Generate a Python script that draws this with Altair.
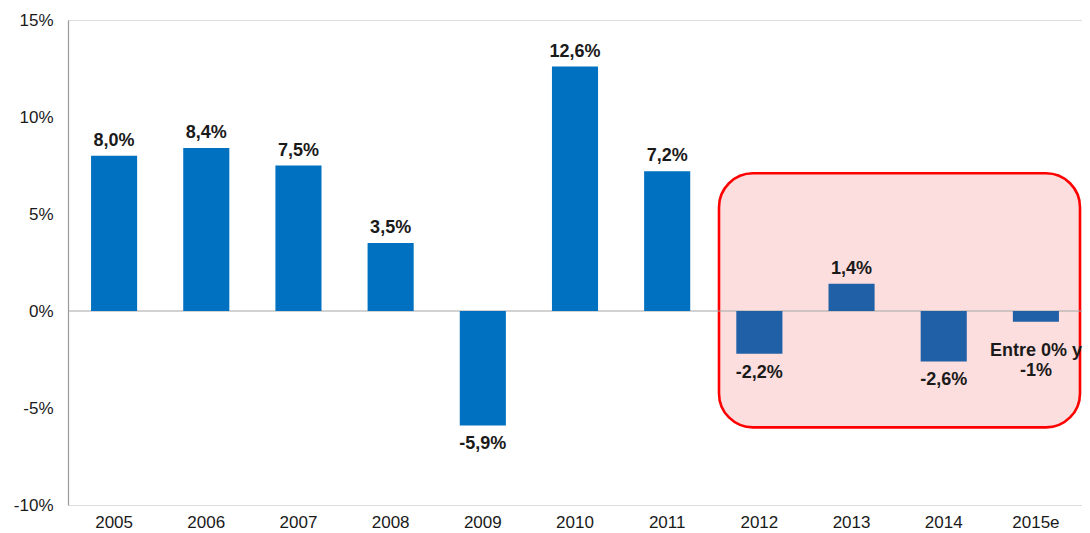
import altair as alt
import pandas as pd

years = ["2005", "2006", "2007", "2008", "2009", "2010", "2011", "2012", "2013", "2014", "2015e"]
values = [8.0, 8.4, 7.5, 3.5, -5.9, 12.6, 7.2, -2.2, 1.4, -2.6, -0.55]
labels = ["8,0%", "8,4%", "7,5%", "3,5%", "-5,9%", "12,6%", "7,2%", "-2,2%", "1,4%", "-2,6%", "Entre 0% y\n-1%"]
group = ["hist"] * 7 + ["recent"] * 4
y_ticks = [-10, -5, 0, 5, 10, 15]

df = pd.DataFrame({"year": years, "value": values, "label": labels, "group": group})
df["kind"] = ["pos" if v > 0 else "neg" for v in values]
df.loc[df["year"] == "2015e", "kind"] = "range"

box_df = pd.DataFrame({"top": [7.1], "bottom": [-6.0]})
zero_df = pd.DataFrame({"z": [0]})

FONT = "Liberation Sans"
W, H = 1014, 485

x_enc = alt.X("year:N", sort=years, title=None,
              scale=alt.Scale(paddingInner=0.5, paddingOuter=0.25),
              axis=alt.Axis(labelAngle=0, ticks=False, domain=False, labelPadding=9,
                            labelFontSize=17, labelColor="#1a1a1a", labelFont=FONT))
y_scale = alt.Scale(domain=[-10, 15], nice=False, zero=False)

box = alt.Chart(box_df).mark_rect(
    fill="#FDDEDE", stroke="#FF0000", strokeWidth=2.6, cornerRadius=34
).encode(
    x=alt.value(651), x2=alt.value(1012),
    y=alt.Y("top:Q", scale=y_scale), y2="bottom:Q"
)

zero = alt.Chart(zero_df).mark_rule(color="#A6A6A6", strokeWidth=1.2).encode(
    x=alt.value(0), x2=alt.value(W),
    y=alt.Y("z:Q", scale=y_scale)
)

bars = alt.Chart(df).mark_bar().encode(
    x=x_enc,
    y=alt.Y("value:Q", scale=y_scale, title=None,
            axis=alt.Axis(values=y_ticks, labelExpr="datum.value + '%'", ticks=False,
                          grid=False, domainColor="#999999", domainWidth=1.2,
                          labelPadding=15, labelFontSize=17, labelColor="#1a1a1a",
                          labelFont=FONT)),
    y2=alt.datum(0),
    color=alt.Color("group:N", scale=alt.Scale(domain=["hist", "recent"],
                                               range=["#0070C0", "#2060A6"]), legend=None)
)

txt_common = dict(fontSize=18, fontWeight="bold", font=FONT, color="#1a1a1a",
                  baseline="alphabetic")

pos_txt = alt.Chart(df).transform_filter("datum.kind == 'pos'").mark_text(
    dy=-10, **txt_common
).encode(x=alt.X("year:N", sort=years), y=alt.Y("value:Q", scale=y_scale), text="label:N")

neg_txt = alt.Chart(df).transform_filter("datum.kind == 'neg'").mark_text(
    dy=24, **txt_common
).encode(x=alt.X("year:N", sort=years), y=alt.Y("value:Q", scale=y_scale), text="label:N")

range_txt = alt.Chart(df).transform_filter("datum.kind == 'range'").mark_text(
    dy=34, lineBreak="\n", lineHeight=20, **txt_common
).encode(x=alt.X("year:N", sort=years), y=alt.Y("value:Q", scale=y_scale), text="label:N")

chart = alt.layer(box, zero, bars, pos_txt, neg_txt, range_txt).properties(
    width=W, height=H,
    autosize=alt.AutoSizeParams(type="none"),
    padding={"left": 60, "top": 12, "right": 0, "bottom": 25}
).configure_view(stroke=None).configure(background="white")

chart.save("out.html", embed_options={"renderer": "svg", "actions": False})
